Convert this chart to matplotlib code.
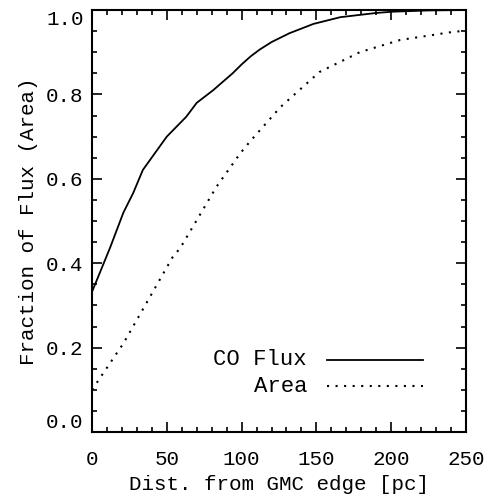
import numpy as np
import matplotlib
matplotlib.use("Agg")
import matplotlib.pyplot as plt
from matplotlib.ticker import MultipleLocator

# ── values ────────────────────────────────────────────────────────────────────
flux_dist = [0, 12, 21, 27.5, 34, 50, 63, 70, 81, 94, 100, 106, 112, 120, 132, 148, 166, 190,
             201, 225, 250]
flux_frac = [0.332, 0.436, 0.52, 0.566, 0.621, 0.70, 0.747, 0.78, 0.81, 0.85, 0.871, 0.89,
             0.906, 0.924, 0.945, 0.967, 0.983, 0.993, 0.996, 0.999, 1.0]

area_dist = [0, 21, 54, 59, 83, 99, 106, 126, 152, 179, 206, 241, 250]
area_frac = [0.10, 0.21, 0.415, 0.436, 0.58, 0.66, 0.69, 0.77, 0.853, 0.90, 0.929, 0.948, 0.951]

x_ticks = [0, 50, 100, 150, 200, 250]
y_ticks = [0.0, 0.2, 0.4, 0.6, 0.8, 1.0]

FONT = "Liberation Mono"
plt.rcParams["font.family"] = [FONT, "DejaVu Sans"]

DOTS = (1, 3.1)

fig = plt.figure(figsize=(4.89, 5.0), dpi=100)
ax = fig.add_axes([92 / 489, 1 - 432 / 500, 374 / 489, 422 / 500])

ax.plot(flux_dist, flux_frac, color="black", lw=1.3)
ax.plot(area_dist, area_frac, color="black", lw=1.5, dashes=DOTS)

ax.set_xlim(0, 250)
ax.set_ylim(0, 1.0)
ax.set_xticks(x_ticks)
ax.set_yticks(y_ticks)
ax.set_yticklabels([f"{v:.1f}" for v in y_ticks])
ax.xaxis.set_minor_locator(MultipleLocator(10))
ax.yaxis.set_minor_locator(MultipleLocator(0.05))

for s in ax.spines.values():
    s.set_linewidth(1.5)
ax.tick_params(which="both", direction="in", top=True, right=True, width=1.2,
               labelsize=15)
ax.tick_params(which="major", length=7)
ax.tick_params(which="minor", length=3.5)
ax.tick_params(axis="x", pad=13)
ax.tick_params(axis="y", pad=6)

# IDL keeps the end labels inside the axis range
yt = ax.yaxis.get_major_ticks()
yt[0].label1.set_va("bottom")
yt[-1].label1.set_va("top")

ax.set_xlabel("Dist. from GMC edge [pc]", fontsize=15, labelpad=4)
ax.set_ylabel("Fraction of Flux (Area)", fontsize=15, labelpad=6)

# legend drawn by hand, IDL style: label on the left, sample line on the right
ax.text(0.575, 0.171, "CO Flux", transform=ax.transAxes, ha="right", va="center", fontsize=16)
ax.text(0.575, 0.109, "Area", transform=ax.transAxes, ha="right", va="center", fontsize=16)
ax.plot([0.628, 0.885], [0.171, 0.171], transform=ax.transAxes, color="black", lw=1.3)
ax.plot([0.628, 0.885], [0.109, 0.109], transform=ax.transAxes, color="black", lw=1.5,
        dashes=DOTS)

fig.savefig("out.png", dpi=100)
